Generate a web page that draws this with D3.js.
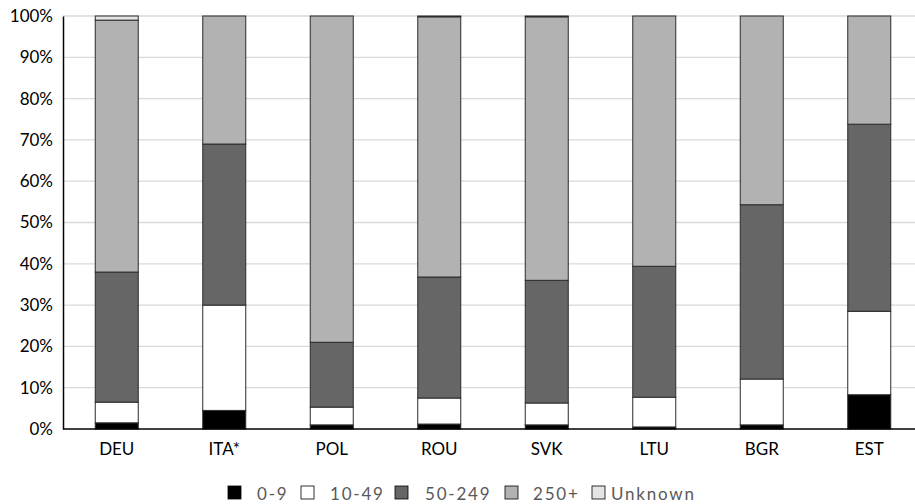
<!DOCTYPE html>
<html>
<head>
<meta charset="utf-8">
<script src="https://cdn.jsdelivr.net/npm/d3@7"></script>
<style>
  body { margin: 0; background: #fff; }
  text { font-family: Lato, "Open Sans", sans-serif; }
</style>
</head>
<body>
<div id="chart"></div>
<script>
var WIDTH = 915, HEIGHT = 504;
var margin = {top: 16, right: -8, bottom: 75, left: 63};

// categories and series (percent shares)
var countries = ['DEU', 'ITA*', 'POL', 'ROU', 'SVK', 'LTU', 'BGR', 'EST'];
var sizeClasses = ['0-9', '10-49', '50-249', '250+', 'Unknown'];
var s0_9     = [1.5, 4.5, 1.0, 1.2, 1.0, 0.5, 1.0, 8.3];
var s10_49   = [5.0, 25.5, 4.3, 6.3, 5.3, 7.2, 11.1, 20.2];
var s50_249  = [31.5, 39.0, 15.7, 29.3, 29.7, 31.7, 42.2, 45.3];
var s250plus = [61.0, 31.0, 79.0, 63.0, 63.8, 60.6, 45.7, 26.2];
var sUnknown = [1.0, 0.0, 0.0, 0.2, 0.2, 0.0, 0.0, 0.0];
var yTicks = [0, 10, 20, 30, 40, 50, 60, 70, 80, 90, 100];

var COLORS = ['#000000', '#ffffff', '#666666', '#b2b2b2', '#e4e4e4'];

var rows = countries.map((c, i) => ({
  country: c,
  '0-9': s0_9[i], '10-49': s10_49[i], '50-249': s50_249[i],
  '250+': s250plus[i], 'Unknown': sUnknown[i]
}));

var svg = d3.select('#chart').append('svg')
            .attr('width', WIDTH)
            .attr('height', HEIGHT);

var x = d3.scaleBand()
          .domain(countries)
          .range([margin.left, WIDTH - margin.right])
          .paddingInner(0.6)
          .paddingOuter(0.3);

var y = d3.scaleLinear()
          .domain([0, 100])
          .range([HEIGHT - margin.bottom, margin.top]);

var color = d3.scaleOrdinal().domain(sizeClasses).range(COLORS);

// grid lines
svg.append('g')
   .selectAll('line')
   .data(yTicks.filter(t => t > 0))
   .enter().append('line')
   .attr('x1', margin.left)
   .attr('x2', WIDTH)
   .attr('y1', d => y(d))
   .attr('y2', d => y(d))
   .attr('stroke', '#d9d9d9')
   .attr('stroke-width', 1.3);

var stack = d3.stack().keys(sizeClasses);
var series = stack(rows);

svg.append('g')
   .selectAll('g')
   .data(series)
   .enter().append('g')
   .attr('fill', d => color(d.key))
   .selectAll('rect')
   .data(d => d.filter(p => p[1] - p[0] > 0))
   .enter().append('rect')
   .attr('x', d => x(d.data.country))
   .attr('y', d => y(d[1]))
   .attr('width', x.bandwidth())
   .attr('height', d => y(d[0]) - y(d[1]))
   .attr('stroke', '#2b2b2b')
   .attr('stroke-width', 1);

// y axis
var yAxis = svg.append('g')
   .attr('transform', `translate(${margin.left},0)`)
   .call(d3.axisLeft(y).tickValues(yTicks).tickFormat(d => d + '%').tickSize(0).tickPadding(10));
yAxis.select('.domain').attr('stroke', '#000').attr('stroke-width', 1.5);
yAxis.selectAll('text').attr('font-size', 17).attr('fill', '#000')
     .style('font-family', 'Lato, sans-serif');

// x axis
var xAxis = svg.append('g')
   .attr('transform', `translate(0,${y(0)})`)
   .call(d3.axisBottom(x).tickSize(0).tickPadding(14));
xAxis.select('.domain').attr('d', `M${margin.left},0H${WIDTH}`)
     .attr('stroke', '#000').attr('stroke-width', 1.5);
xAxis.selectAll('text').attr('font-size', 17).attr('fill', '#000')
     .style('font-family', 'Lato, sans-serif');

// legend
var legendX = [228, 301, 395, 505, 592];
var legendTextX = [257, 330, 425, 533, 611];
var legend = svg.append('g').attr('class', 'legend');
sizeClasses.forEach((k, i) => {
  legend.append('rect')
        .attr('x', legendX[i])
        .attr('y', 486)
        .attr('width', 13)
        .attr('height', 13)
        .attr('fill', color(k))
        .attr('stroke', '#000')
        .attr('stroke-width', 0.8);
  legend.append('text')
        .attr('x', legendTextX[i])
        .attr('y', 500)
        .attr('font-size', 17)
        .attr('fill', '#595959')
        .style('letter-spacing', '1.8px')
        .text(k);
});
</script>
</body>
</html>
